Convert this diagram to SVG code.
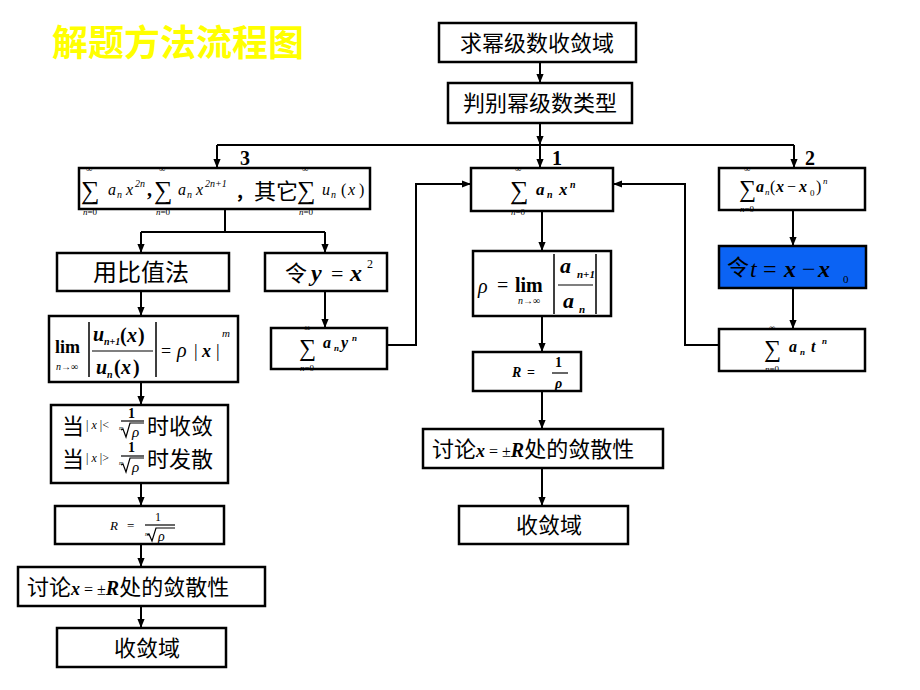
<svg xmlns="http://www.w3.org/2000/svg" width="920" height="690" viewBox="0 0 920 690">
<defs>
<marker id="ah" viewBox="0 0 10 10" refX="10" refY="5" markerWidth="9" markerHeight="9" markerUnits="userSpaceOnUse" orient="auto"><path d="M0,1 L10,5 L0,9 z" fill="#000"/></marker>
<style>
.box{fill:#fff;stroke:#000;stroke-width:2.5}
.cn{font-family:"Noto Sans CJK SC","Noto Sans CJK JP",sans-serif;fill:#000}
.m{font-family:"Liberation Serif","DejaVu Serif",serif;fill:#000}
.i{font-style:italic}
.b{font-weight:bold}
.w{stroke:#000;fill:none;stroke-width:2}
.f{stroke:#000;stroke-width:1.2;fill:none}
.sum{font-family:"Liberation Serif","DejaVu Serif",serif;font-size:26px}
.lm{font-family:"Liberation Serif","DejaVu Serif",serif;font-size:9px}
</style>
</defs>
<rect width="920" height="690" fill="#fff"/>
<text x="52" y="56" class="cn b" style="font-size:36px;fill:#FFFF00">解题方法流程图</text>

<g id="connectors">
<path class="w" d="M540,62 V83" marker-end="url(#ah)"/>
<path class="w" d="M540,123 V145" marker-end="url(#ah)"/>
<path class="w" d="M217,145 H794"/>
<path class="w" d="M217,145 V168" marker-end="url(#ah)"/>
<path class="w" d="M540,145 V168" marker-end="url(#ah)"/>
<path class="w" d="M794,145 V168" marker-end="url(#ah)"/>
<path class="w" d="M225,209 V232 M141,232 H325"/>
<path class="w" d="M141,232 V253" marker-end="url(#ah)"/>
<path class="w" d="M325,232 V253" marker-end="url(#ah)"/>
<path class="w" d="M141,291 V316" marker-end="url(#ah)"/>
<path class="w" d="M325,291 V328" marker-end="url(#ah)"/>
<path class="w" d="M141,382 V405" marker-end="url(#ah)"/>
<path class="w" d="M141,483 V506" marker-end="url(#ah)"/>
<path class="w" d="M141,544 V567" marker-end="url(#ah)"/>
<path class="w" d="M141,606 V628" marker-end="url(#ah)"/>
<path class="w" d="M387,345 H416 V184 H471" marker-end="url(#ah)"/>
<path class="w" d="M719,345 H685 V184 H613" marker-end="url(#ah)"/>
<path class="w" d="M542,211 V251" marker-end="url(#ah)"/>
<path class="w" d="M542,316 V352" marker-end="url(#ah)"/>
<path class="w" d="M542,391 V429" marker-end="url(#ah)"/>
<path class="w" d="M542,468 V506" marker-end="url(#ah)"/>
<path class="w" d="M793,210 V246" marker-end="url(#ah)"/>
<path class="w" d="M793,288 V329" marker-end="url(#ah)"/>
<text class="m b" x="240" y="165" style="font-size:20px">3</text>
<text class="m b" x="552" y="165" style="font-size:20px">1</text>
<text class="m b" x="805" y="165" style="font-size:20px">2</text>
</g>

<g id="n-start">
<rect class="box" x="439" y="23" width="197" height="39"/>
<text class="cn" x="537" y="51" text-anchor="middle" style="font-size:22px">求幂级数收敛域</text>
</g>

<g id="n-type">
<rect class="box" x="448" y="83" width="184" height="40"/>
<text class="cn" x="540" y="111" text-anchor="middle" style="font-size:22px">判别幂级数类型</text>
</g>

<g id="n-series3">
<rect class="box" x="79" y="168" width="291" height="41"/>
<text class="sum" x="81" y="199">∑</text>
<text class="lm" x="86" y="172">∞</text>
<text class="lm" x="83" y="215"><tspan class="i">n</tspan>=0</text>
<text class="m i" style="font-size:16px"><tspan x="108" y="195">a</tspan><tspan x="117" y="198" style="font-size:10px">n</tspan><tspan x="126" y="195">x</tspan><tspan x="135" y="187" style="font-size:10px">2n</tspan></text>
<text class="m b" x="147" y="196" style="font-size:20px">,</text>
<text class="sum" x="154" y="199">∑</text>
<text class="lm" x="159" y="172">∞</text>
<text class="lm" x="156" y="215"><tspan class="i">n</tspan>=0</text>
<text class="m i" style="font-size:16px"><tspan x="178" y="195">a</tspan><tspan x="187" y="198" style="font-size:10px">n</tspan><tspan x="196" y="195">x</tspan><tspan x="205" y="187" style="font-size:10px">2n+1</tspan></text>
<text class="cn b" x="235" y="199" style="font-size:18px">，</text>
<text class="cn" x="254" y="199" style="font-size:22px">其它</text>
<text class="sum" x="297" y="199">∑</text>
<text class="lm" x="302" y="172">∞</text>
<text class="lm" x="299" y="215"><tspan class="i">n</tspan>=0</text>
<text class="m" style="font-size:16px"><tspan class="i" x="322" y="195">u</tspan><tspan class="i" x="331" y="198" style="font-size:10px">n</tspan><tspan x="341" y="195">(</tspan><tspan class="i" x="348" y="195">x</tspan><tspan x="359" y="195">)</tspan></text>
</g>

<g id="n-ratio">
<rect class="box" x="57" y="253" width="172" height="38"/>
<text class="cn" x="141" y="281" text-anchor="middle" style="font-size:24px">用比值法</text>
</g>

<g id="n-sub-y">
<rect class="box" x="265" y="253" width="122" height="38"/>
<text class="cn" x="285" y="281" style="font-size:22px">令</text>
<text class="m" style="font-size:24px"><tspan class="i b" x="311" y="281">y</tspan><tspan x="331" y="281" style="font-size:22px">=</tspan><tspan class="i b" x="350" y="281">x</tspan><tspan x="367" y="268" style="font-size:12px">2</tspan></text>
</g>

<g id="n-lim">
<rect class="box" x="49" y="316" width="189" height="66"/>
<text class="m b" x="55" y="353" style="font-size:18px">lim</text>
<text class="m" x="56" y="370" style="font-size:10px"><tspan class="i">n</tspan>→∞</text>
<path class="f" style="stroke-width:1.5" d="M89,322 V377 M156,322 V377"/>
<path class="f" d="M92,351 H153"/>
<text class="m b" style="font-size:20px"><tspan class="i" x="93" y="341">u</tspan><tspan class="i" x="104" y="345" style="font-size:10px">n+1</tspan><tspan x="120" y="342">(</tspan><tspan class="i" x="127" y="342">x</tspan><tspan x="138" y="342">)</tspan></text>
<text class="m b" style="font-size:20px"><tspan class="i" x="96" y="374">u</tspan><tspan class="i" x="107" y="378" style="font-size:10px">n</tspan><tspan x="114" y="374">(</tspan><tspan class="i" x="121" y="374">x</tspan><tspan x="133" y="374">)</tspan></text>
<text class="m" style="font-size:18px"><tspan x="161" y="357">=</tspan><tspan class="i" x="177" y="357" style="font-size:20px">ρ</tspan><tspan x="194" y="357">|</tspan><tspan class="i b" x="202" y="357">x</tspan><tspan x="216" y="357">|</tspan><tspan class="i" x="222" y="337" style="font-size:11px">m</tspan></text>
</g>

<g id="n-cond">
<rect class="box" x="51" y="405" width="177" height="78"/>
<text class="cn" x="62" y="434" style="font-size:22px">当</text>
<text class="m" x="86" y="429" style="font-size:12px">| <tspan class="i">x</tspan> |&lt;</text>
<text class="m b" x="128" y="418" style="font-size:14px">1</text>
<path class="f" d="M121,421 H144"/>
<text class="m i" x="119" y="430" style="font-size:6px">m</text>
<path class="f" d="M121,430 l2,-1 l3,8 l4,-14 h14"/>
<text class="m i" x="132" y="437" style="font-size:15px">ρ</text>
<text class="cn" x="147" y="434" style="font-size:22px">时收敛</text>
<text class="cn" x="62" y="467" style="font-size:22px">当</text>
<text class="m" x="86" y="462" style="font-size:12px">| <tspan class="i">x</tspan> |&gt;</text>
<text class="m b" x="128" y="452" style="font-size:14px">1</text>
<path class="f" d="M121,456 H144"/>
<text class="m i" x="119" y="465" style="font-size:6px">m</text>
<path class="f" d="M121,465 l2,-1 l3,8 l4,-14 h14"/>
<text class="m i" x="132" y="472" style="font-size:15px">ρ</text>
<text class="cn" x="147" y="467" style="font-size:22px">时发散</text>
</g>

<g id="n-R-left">
<rect class="box" x="55" y="506" width="169" height="38"/>
<text class="m" style="font-size:13px"><tspan class="i" x="110" y="530">R</tspan><tspan x="127" y="530">=</tspan></text>
<text class="m" x="155" y="521" style="font-size:12px">1</text>
<path class="f" d="M145,525 H175"/>
<text class="m i" x="145" y="536" style="font-size:6px">m</text>
<path class="f" d="M147,535 l2,-1 l3,7 l4,-13 h19"/>
<text class="m i" x="158" y="541" style="font-size:14px">ρ</text>
</g>

<g id="n-disc-left">
<rect class="box" x="18" y="567" width="247" height="39"/>
<text x="27" y="595"><tspan class="cn" style="font-size:22px">讨论</tspan><tspan class="m i b" style="font-size:18px">x</tspan><tspan class="m" style="font-size:16px"> = ±</tspan><tspan class="m i b" style="font-size:20px">R</tspan><tspan class="cn" style="font-size:22px">处的敛散性</tspan></text>
</g>

<g id="n-domain-left">
<rect class="box" x="57" y="628" width="169" height="39"/>
<text class="cn" x="147" y="656" text-anchor="middle" style="font-size:22px">收敛域</text>
</g>

<g id="n-yseries">
<rect class="box" x="271" y="328" width="116" height="41"/>
<text class="sum" style="font-size:24px" x="299" y="356">∑</text>
<text class="lm" x="304" y="331">∞</text>
<text class="lm" x="300" y="371"><tspan class="i">n</tspan>=0</text>
<text class="m i b" style="font-size:16px"><tspan x="323" y="348">a</tspan><tspan x="334" y="351" style="font-size:9px">n</tspan><tspan x="341" y="348">y</tspan><tspan x="352" y="341" style="font-size:9px">n</tspan></text>
</g>

<g id="n-series1">
<rect class="box" x="471" y="168" width="142" height="43"/>
<text class="sum" x="510" y="199">∑</text>
<text class="lm" x="515" y="172">∞</text>
<text class="lm" x="511" y="215"><tspan class="i">n</tspan>=0</text>
<text class="m i b" style="font-size:17px"><tspan x="536" y="195">a</tspan><tspan x="547" y="198" style="font-size:10px">n</tspan><tspan x="559" y="195">x</tspan><tspan x="570" y="188" style="font-size:10px">n</tspan></text>
</g>

<g id="n-rho">
<rect class="box" x="473" y="251" width="138" height="65"/>
<text class="m" style="font-size:20px"><tspan class="i" x="478" y="293">ρ</tspan><tspan x="497" y="292">=</tspan><tspan class="b" x="515" y="292">lim</tspan></text>
<text class="m" x="518" y="304" style="font-size:10px"><tspan class="i">n</tspan>→∞</text>
<path class="f" style="stroke-width:1.5" d="M554,254 V314 M596,254 V314"/>
<path class="f" d="M558,285 H593"/>
<text class="m i b" style="font-size:22px"><tspan x="560" y="273">a</tspan><tspan x="577" y="278" style="font-size:11px">n+1</tspan></text>
<text class="m i b" style="font-size:22px"><tspan x="563" y="308">a</tspan><tspan x="579" y="313" style="font-size:11px">n</tspan></text>
</g>

<g id="n-R-mid">
<rect class="box" x="473" y="352" width="108" height="39"/>
<text class="m b" style="font-size:14px"><tspan class="i" x="512" y="377">R</tspan><tspan x="527" y="377">=</tspan><tspan x="555" y="367">1</tspan><tspan class="i" x="555" y="388">ρ</tspan></text>
<path class="f" d="M552,373 H568"/>
</g>

<g id="n-disc-mid">
<rect class="box" x="423" y="429" width="240" height="39"/>
<text x="432" y="457"><tspan class="cn" style="font-size:22px">讨论</tspan><tspan class="m i b" style="font-size:18px">x</tspan><tspan class="m" style="font-size:16px"> = ±</tspan><tspan class="m i b" style="font-size:20px">R</tspan><tspan class="cn" style="font-size:22px">处的敛散性</tspan></text>
</g>

<g id="n-domain-mid">
<rect class="box" x="459" y="506" width="169" height="38"/>
<text class="cn" x="549" y="533" text-anchor="middle" style="font-size:22px">收敛域</text>
</g>

<g id="n-series2">
<rect class="box" x="719" y="168" width="146" height="42"/>
<text class="sum" style="font-size:24px" x="739" y="197">∑</text>
<text class="lm" x="744" y="172">∞</text>
<text class="lm" x="740" y="212"><tspan class="i">n</tspan>=0</text>
<text class="m" style="font-size:16px"><tspan class="i b" x="756" y="192">a</tspan><tspan class="i" x="765" y="195" style="font-size:9px">n</tspan><tspan x="770" y="192">(</tspan><tspan class="i b" x="776" y="192">x</tspan><tspan x="787" y="192">−</tspan><tspan class="i b" x="799" y="192">x</tspan><tspan x="810" y="196" style="font-size:9px">0</tspan><tspan x="816" y="192">)</tspan><tspan class="i" x="823" y="184" style="font-size:9px">n</tspan></text>
</g>

<g id="n-sub-t">
<rect class="box" x="719" y="246" width="147" height="42" style="fill:#0B63F4"/>
<text class="cn" x="727" y="275" style="font-size:22px">令</text>
<text class="m" style="font-size:24px"><tspan class="i" x="750" y="277">t</tspan><tspan x="763" y="277">=</tspan><tspan class="i b" x="784" y="277">x</tspan><tspan x="802" y="277">−</tspan><tspan class="i b" x="818" y="277">x</tspan><tspan x="843" y="283" style="font-size:11px">0</tspan></text>
</g>

<g id="n-tseries">
<rect class="box" x="719" y="329" width="146" height="42"/>
<text class="sum" style="font-size:24px" x="764" y="357">∑</text>
<text class="lm" x="769" y="331">∞</text>
<text class="lm" x="765" y="372"><tspan class="i">n</tspan>=0</text>
<text class="m i b" style="font-size:16px"><tspan x="789" y="352">a</tspan><tspan x="800" y="355" style="font-size:9px">n</tspan><tspan x="811" y="352">t</tspan><tspan x="822" y="344" style="font-size:9px">n</tspan></text>
</g>
</svg>
